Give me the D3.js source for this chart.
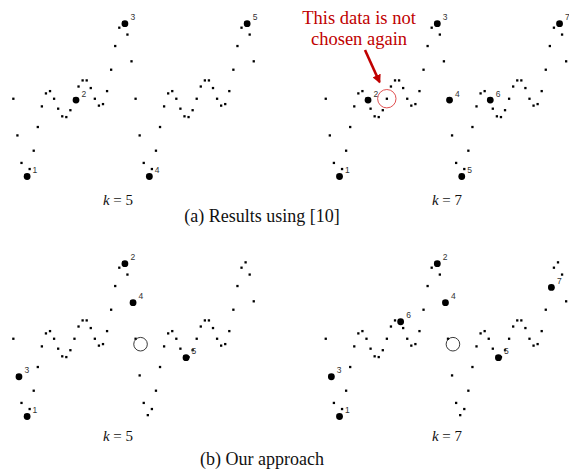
<!DOCTYPE html>
<html>
<head>
<meta charset="utf-8">
<script src="https://cdn.jsdelivr.net/npm/d3@7/dist/d3.min.js"></script>
<style>
body { margin: 0; background: #fff; }
svg { display: block; }
.serif { font-family: 'Liberation Serif', 'Times New Roman', serif; }
.sans { font-family: 'Liberation Sans', Arial, sans-serif; }
</style>
</head>
<body>
<svg id="chart" width="569" height="471"></svg>
<script>
// the series: two identical periods of 30 samples
const values = [
    0, -0.48, -0.84, -1.00, -0.92, -0.68, -0.37, -0.10, 0.07, 0.10,
    0, -0.13, -0.23, -0.24, -0.15, 0, 0.16, 0.24, 0.24, 0.14,
    0, -0.09, -0.07, 0.10, 0.38, 0.69, 0.93, 1.00, 0.84, 0.49,
    0, -0.48, -0.84, -1.00, -0.92, -0.68, -0.37, -0.10, 0.07, 0.10,
    0, -0.13, -0.23, -0.24, -0.15, 0, 0.16, 0.24, 0.24, 0.14,
    0, -0.09, -0.07, 0.10, 0.38, 0.69, 0.93, 1.00, 0.84, 0.49
];
// chosen samples, in the order they were picked
const picksA5 = [3, 15, 27, 33, 57];
const picksA7 = [3, 10, 27, 30, 33, 40, 57];
const picksB5 = [3, 27, 1, 29, 42];
const picksB7 = [3, 27, 1, 29, 42, 18, 55];
const kValues = [5, 7];
const rowCaptions = ['(a) Results using [10]', '(b) Our approach'];
const noteLines = ['This data is not', 'chosen again'];
const noteIndex = 15;   // sample circled in red (top right)
const holeIndex = 30;   // empty circle in row (b)

const RED = '#c00000';
const svg = d3.select('#chart');

const x = d3.scaleLinear().domain([0, values.length - 1]).range([13.3, 253.7]);
const y = d3.scaleLinear().domain([-1, 1]).range([175.1, 22.3]);

function drawPanel(dx, dy, picks, withHole) {
    const g = svg.append('g').attr('transform', `translate(${dx},${dy})`);

    g.selectAll('rect.pt')
        .data(values)
        .join('rect')
        .attr('class', 'pt')
        .attr('x', (v, i) => x(i) - 1.1)
        .attr('y', v => y(v) - 1.1)
        .attr('width', 2.3)
        .attr('height', 2.3)
        .attr('fill', '#000');

    if (withHole) {
        g.append('circle')
            .attr('cx', x(holeIndex) + 5)
            .attr('cy', y(values[holeIndex]) + 5.5)
            .attr('r', 6.8)
            .attr('fill', 'none')
            .attr('stroke', '#222')
            .attr('stroke-width', 0.9);
    }

    // big markers sit a little below/right of the sample, as in the original
    const picked = g.selectAll('g.pick')
        .data(picks)
        .join('g')
        .attr('class', 'pick')
        .attr('transform', i => `translate(${x(i) + 1.6},${y(values[i]) + 1.4})`);
    picked.append('circle')
        .attr('r', 3.4)
        .attr('fill', '#000');
    picked.append('text')
        .attr('class', 'sans')
        .attr('x', 5.5)
        .attr('y', -3.5)
        .attr('font-size', 8.5)
        .attr('fill', '#333')
        .text((i, n) => n + 1);
    return g;
}

function kLabel(cx, baseline, k) {
    const t = svg.append('text')
        .attr('class', 'serif')
        .attr('x', cx)
        .attr('y', baseline)
        .attr('text-anchor', 'middle')
        .attr('font-size', 15)
        .attr('fill', '#111');
    t.append('tspan').attr('font-style', 'italic').text('k');
    t.append('tspan').text(` = ${k}`);
}

function caption(cx, baseline, str) {
    svg.append('text')
        .attr('class', 'serif')
        .attr('x', cx)
        .attr('y', baseline)
        .attr('text-anchor', 'middle')
        .attr('font-size', 18)
        .attr('fill', '#111')
        .text(str);
}

drawPanel(0, 0, picksA5, false);
const topRight = drawPanel(312.4, 0, picksA7, false);
drawPanel(0, 240, picksB5, true);
drawPanel(312.4, 240, picksB7, true);

// annotation on the top right panel
topRight.append('circle')
    .attr('cx', x(noteIndex))
    .attr('cy', y(values[noteIndex]))
    .attr('r', 9.2)
    .attr('fill', 'none')
    .attr('stroke', '#e05050')
    .attr('stroke-width', 1);

svg.append('defs').append('marker')
    .attr('id', 'head')
    .attr('viewBox', '0 0 10 10')
    .attr('refX', 8)
    .attr('refY', 5)
    .attr('markerWidth', 3.4)
    .attr('markerHeight', 3.4)
    .attr('orient', 'auto')
    .append('path')
    .attr('d', 'M0,0L10,5L0,10Z')
    .attr('fill', RED);

svg.append('line')
    .attr('x1', 365)
    .attr('y1', 50)
    .attr('x2', 379.5)
    .attr('y2', 82)
    .attr('stroke', RED)
    .attr('stroke-width', 2.6)
    .attr('marker-end', 'url(#head)');

noteLines.forEach((line, i) => {
    svg.append('text')
        .attr('class', 'serif')
        .attr('x', 359)
        .attr('y', 24 + i * 20.5)
        .attr('font-size', 18.5)
        .attr('fill', RED)
        .attr('text-anchor', 'middle')
        .text(line);
});

kLabel(118, 205, kValues[0]);
kLabel(447, 205, kValues[1]);
caption(262, 222, rowCaptions[0]);
kLabel(118, 441, kValues[0]);
kLabel(447, 441, kValues[1]);
caption(262, 465, rowCaptions[1]);
</script>
</body>
</html>
